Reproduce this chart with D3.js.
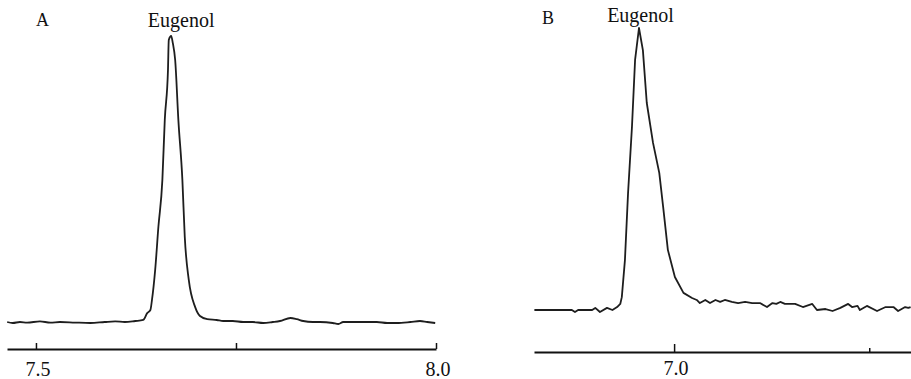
<!DOCTYPE html>
<html>
<head>
<meta charset="utf-8">
<script src="https://cdn.jsdelivr.net/npm/d3@7"></script>
<style>
  html, body { margin: 0; padding: 0; background: #fff; }
  svg { display: block; }
  svg text { font-family: 'Liberation Serif', 'Times New Roman', Times, serif !important; fill: #111; }
</style>
</head>
<body>
<svg id="chart" width="911" height="379"></svg>
<script>
// ---- Data: panel A (retention time, min ; relative intensity) ----
const timeA = [7.464,7.471,7.480,7.489,7.505,7.518,7.530,7.549,7.568,7.586,7.599,7.611,7.624,7.634,
  7.639,7.643,7.645,7.649,7.653,7.658,7.661,7.665,7.666,7.669,7.671,7.674,7.678,7.683,7.686,7.691,
  7.699,7.705,7.714,7.726,7.734,7.746,7.759,7.771,7.784,7.796,7.805,7.818,7.826,7.834,7.846,7.855,
  7.871,7.878,7.884,7.901,7.926,7.939,7.951,7.968,7.980,7.989,7.999];
const intensityA = [0,-0.35,0,-0.2,0.2,-0.2,0,-0.2,-0.35,0,0.2,0,0.35,0.7,
  3.1,4.2,7.7,18.2,33.2,49.7,70.6,88.1,98.6,100,97.6,91.6,70.6,49.7,29.7,14.7,
  5.2,2.1,1.0,0.7,0.35,0.35,0,0,-0.35,0,0.35,1.4,1.0,0.35,0,0,
  -0.35,-0.7,0,0,0,-0.35,-0.35,0,0.35,0,-0.35];

// ---- Data: panel B ----
const timeB = [6.821,6.869,6.873,6.877,6.895,6.899,6.905,6.914,6.921,6.927,6.931,6.933,6.937,6.941,
  6.946,6.950,6.955,6.960,6.965,6.973,6.981,6.986,6.992,7.001,7.012,7.023,7.029,7.033,7.040,7.046,
  7.053,7.059,7.065,7.074,7.082,7.091,7.100,7.110,7.119,7.126,7.131,7.136,7.142,7.155,7.165,7.177,
  7.183,7.194,7.203,7.213,7.223,7.228,7.235,7.238,7.247,7.260,7.271,7.281,7.287,7.296,7.300,7.303];
const intensityB = [0.35,0.35,-0.35,0.35,0.35,1.1,-0.35,1.1,0.35,1.4,2.5,4.9,18.0,41.7,
  65.0,88.7,100,92.2,73.5,59.4,48.8,36.7,21.6,12.0,6.4,4.6,3.9,2.8,3.9,2.8,
  3.9,3.2,3.9,3.2,2.8,3.2,2.8,2.8,1.4,2.8,2.5,3.2,2.5,2.5,1.4,2.5,
  0.35,0.7,0,1.1,2.5,1.4,1.8,0.35,1.8,0,1.4,1.4,0,1.4,1.1,1.4];

// ---- Axis ticks / labels ----
const ticksA = [7.5, 7.75, 8.0];
const tickLabelsA = ["7.5", "", "8.0"];
const ticksB = [7.0, 7.25];
const tickLabelsB = ["7.0", ""];
const panelLabels = ["A", "B"];
const peakName = "Eugenol";

const SERIF = "'Liberation Serif', 'Times New Roman', Times, serif";
const svg = d3.select("#chart");

function drawPanel(cfg) {
  const x = d3.scaleLinear().domain(cfg.xDomain).range(cfg.xRange);
  const y = d3.scaleLinear().domain([0, 100]).range(cfg.yRange);
  const g = svg.append("g");

  const pts = cfg.time.map((t, i) => [t, cfg.intensity[i]]);
  g.append("path")
    .datum(pts)
    .attr("fill", "none")
    .attr("stroke", "#1e1e1e")
    .attr("stroke-width", 1.8)
    .attr("stroke-linejoin", "round")
    .attr("d", d3.line().x(d => x(d[0])).y(d => y(d[1])).curve(cfg.curve));

  const axis = d3.axisBottom(x)
    .tickValues(cfg.ticks)
    .tickFormat((d, i) => cfg.tickLabels[i])
    .tickSizeInner(-cfg.tickLen)
    .tickSizeOuter(0)
    .tickPadding(cfg.pad);
  const ag = g.append("g").attr("transform", `translate(0,${cfg.axisY})`).call(axis);
  ag.attr("font-family", null).attr("font-size", null);
  ag.select(".domain").attr("stroke", "#111").attr("stroke-width", 2);
  ag.selectAll(".tick line").attr("stroke", "#111").attr("stroke-width", 1.5)
    .attr("y2", (d, i) => -cfg.tickLens[i]);
  ag.selectAll(".tick text")
    .style("font-family", SERIF)
    .style("font-size", "20px").attr("fill", "#111").attr("dx", 1.5);

  g.append("text").attr("x", cfg.labelX).attr("y", cfg.labelY)
    .style("font-family", SERIF).style("font-size", "18px").text(cfg.label);

  const peakIdx = d3.maxIndex(cfg.intensity);
  g.append("text")
    .attr("x", x(cfg.time[peakIdx]) + cfg.nameDx)
    .attr("y", cfg.nameY)
    .attr("text-anchor", "middle")
    .style("font-family", SERIF).style("font-size", "20px")
    .text(peakName);
}

drawPanel({
  time: timeA, intensity: intensityA,
  xDomain: [7.4638, 8.0], xRange: [7, 436],
  yRange: [322, 36],
  axisY: 349, ticks: ticksA, tickLabels: tickLabelsA, tickLen: 6, tickLens: [6, 6, 6], pad: 13,
  label: panelLabels[0], labelX: 36, labelY: 26,
  nameDx: 10, nameY: 27, curve: d3.curveMonotoneX
});

drawPanel({
  time: timeB, intensity: intensityB,
  xDomain: [6.8205, 7.3035], xRange: [534, 911],
  yRange: [311, 28],
  axisY: 352, ticks: ticksB, tickLabels: tickLabelsB, tickLen: 8, tickLens: [8, 4], pad: 9,
  label: panelLabels[1], labelX: 542, labelY: 24,
  nameDx: 1.5, nameY: 22, curve: d3.curveLinear
});
</script>
</body>
</html>
